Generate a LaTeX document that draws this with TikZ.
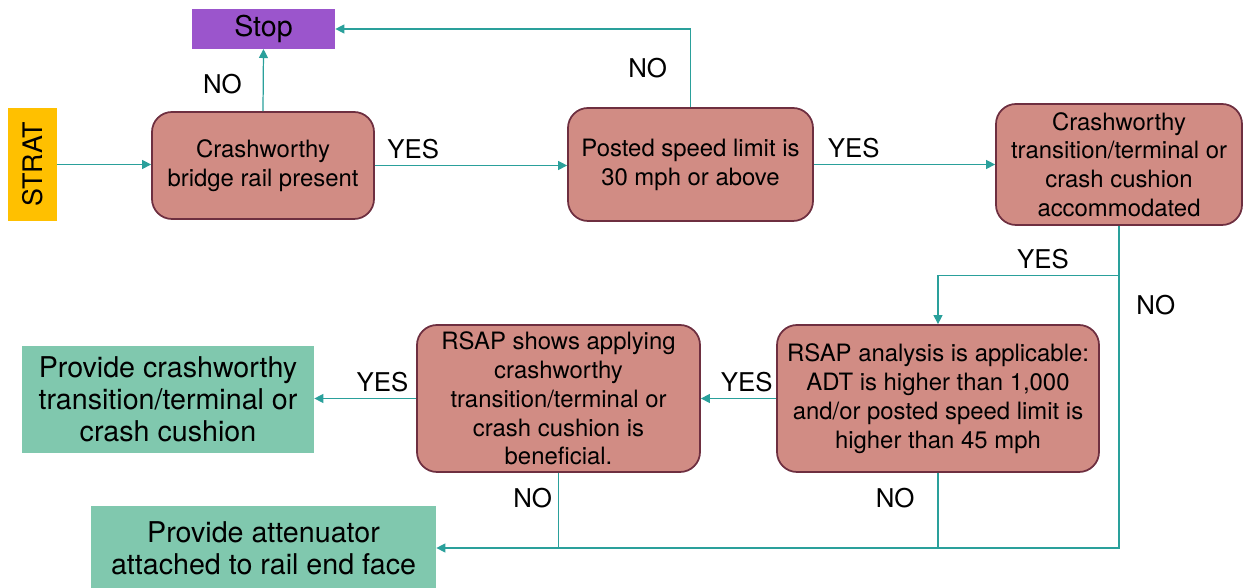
\documentclass[tikz,border=0pt]{standalone}
\usepackage{fontspec}
\setsansfont{TeX Gyre Heros}
\usetikzlibrary{arrows.meta,positioning,calc}
\definecolor{decisionred}{RGB}{209,140,132}
\definecolor{decisionedge}{RGB}{110,47,64}
\definecolor{actiongreen}{RGB}{128,200,174}
\definecolor{stoppurple}{RGB}{155,85,204}
\definecolor{startorange}{RGB}{255,192,0}
\definecolor{flowteal}{RGB}{42,160,155}

\tikzset{
  decision/.style={rectangle, rounded corners=0.4cm, draw=decisionedge, line width=1pt, fill=decisionred, inner sep=2pt, align=center, font=\sffamily\fontsize{13.6}{16.4}\selectfont},
  action/.style={rectangle, fill=actiongreen, inner sep=2pt, align=center, font=\sffamily\fontsize{16.3}{18.1}\selectfont},
  flow/.style={-{Triangle[length=0.18cm,width=0.18cm]}, flowteal, line width=0.7pt},
  link/.style={flowteal, line width=0.7pt},
  answer/.style={font=\sffamily\fontsize{14.7}{17}\selectfont, text=black}
}

\begin{document}
\begin{tikzpicture}
    \useasboundingbox (0,0) rectangle (24.88,11.76);

    % start / stop
    \node[rectangle, fill=startorange, rotate=90, minimum width=2.26cm, minimum height=0.98cm, font=\sffamily\fontsize{15.3}{18}\selectfont] (strat) at (0.65,8.47) {STRAT};
    \node[rectangle, fill=stoppurple, minimum width=2.86cm, minimum height=0.76cm, font=\sffamily\fontsize{16.3}{18}\selectfont] (stop) at (5.27,11.18) {Stop};

    % checks, top row
    \node[decision, minimum width=4.44cm, minimum height=2.14cm] (bridge) at (5.26,8.45) {Crashworthy\\bridge rail present};
    \node[decision, minimum width=4.9cm, minimum height=2.26cm] (speed) at (13.81,8.47) {Posted speed limit is\\30 mph or above};
    \node[decision, minimum width=4.92cm, minimum height=2.42cm] (accom) at (22.38,8.47) {Crashworthy\\transition/terminal or\\crash cushion\\accommodated};

    % RSAP checks
    \node[decision, minimum width=6.44cm, minimum height=2.94cm] (rsapa) at (18.76,3.79) {RSAP analysis is applicable:\\ADT is higher than 1,000\\and/or posted speed limit is\\higher than 45 mph};
    \node[decision, minimum width=5.66cm, minimum height=2.94cm] (rsapb) at (11.17,3.79) {RSAP shows applying\\crashworthy\\transition/terminal or\\crash cushion is\\beneficial.};

    % outcomes
    \node[action, minimum width=5.84cm, minimum height=2.14cm] (cushion) at (3.36,3.77) {Provide crashworthy\\transition/terminal or\\crash cushion};
    \node[action, minimum width=6.9cm, minimum height=1.68cm] (atten) at (5.27,0.80) {Provide attenuator\\attached to rail end face};

    \coordinate (fork) at ($(accom.south)+(0,-1)$);
    \coordinate (merge) at (accom.south |- atten.east);

    % top row
    \draw[flow] (strat) -- (strat -| bridge.west);
    \draw[flow] (bridge.north) -- node[answer, pos=0.44, left=0.3cm]{NO} (stop.south);
    \draw[flow] (speed.north) |- node[answer, pos=0.25, left=0.34cm]{NO} (stop.east);
    \draw[flow] (bridge.east) -- node[answer, pos=0.2, above]{YES} (bridge.east -| speed.west);
    \draw[flow] (speed.east) -- node[answer, pos=0.22, above]{YES} (speed.east -| accom.west);

    % down to the RSAP checks
    \draw[flow] (fork) -| node[answer, pos=0.21, above]{YES} (rsapa.north);
    \draw[flow] (accom.south) -- node[answer, pos=0.245, right=0.22cm]{NO} (merge) -- (atten.east);
    \draw[flow] (rsapa.west) -- node[answer, pos=0.39, above]{YES} (rsapb.east);
    \draw[flow] (rsapb.west) -- node[answer, pos=0.33, above]{YES} (rsapb.west -| cushion.east);

    % NO branches join the bottom line
    \draw[link] (rsapa.south) -- node[answer, pos=0.34, left=0.34cm]{NO} (rsapa.south |- merge);
    \draw[link] (rsapb.south) -- node[answer, pos=0.34, left]{NO} (rsapb.south |- merge);
\end{tikzpicture}
\end{document}
